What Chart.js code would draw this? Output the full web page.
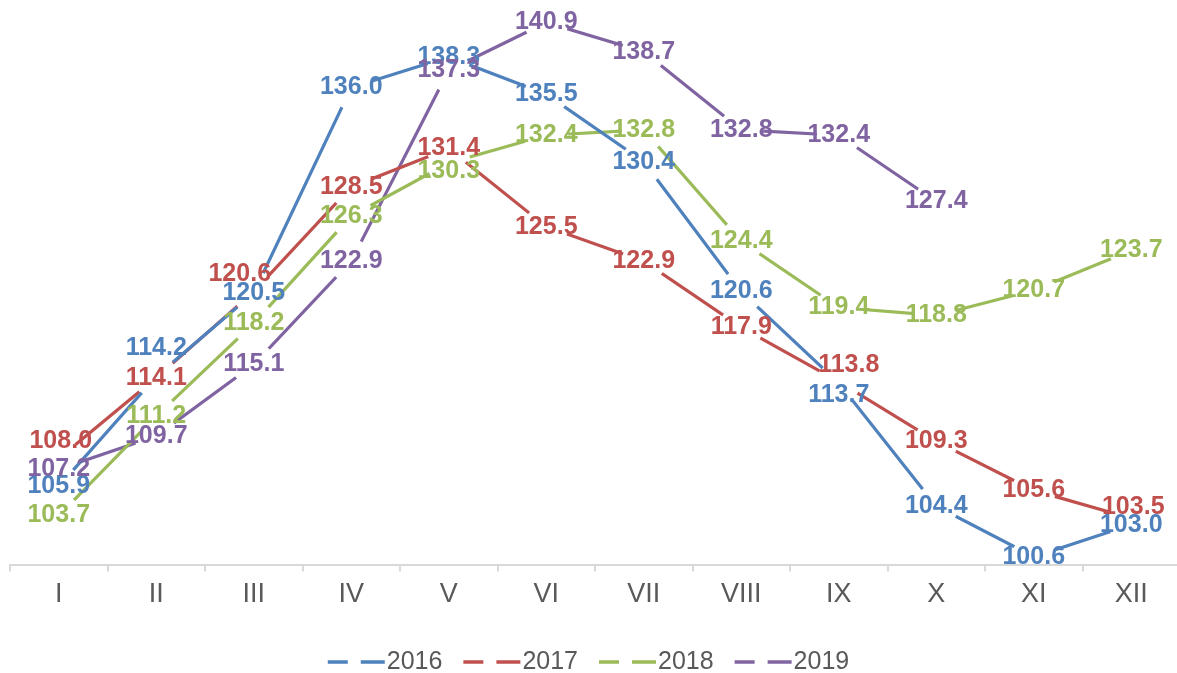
<!DOCTYPE html>
<html>
<head>
<meta charset="utf-8">
<script src="https://cdn.jsdelivr.net/npm/chart.js@4/dist/chart.umd.min.js"></script>
<style>
  html, body { margin: 0; padding: 0; background: #ffffff; overflow: hidden; }
  #wrap { position: relative; width: 1181px; height: 673px; }
</style>
</head>
<body>
<div id="wrap"><canvas id="c"></canvas></div>
<script>
// ---- data ----
const months = ['I','II','III','IV','V','VI','VII','VIII','IX','X','XI','XII'];
const seriesNames = ['2016','2017','2018','2019'];
const v2016 = [105.9, 114.2, 120.5, 136.0, 138.3, 135.5, 130.4, 120.6, 113.7, 104.4, 100.6, 103.0];
const v2017 = [108.0, 114.1, 120.6, 128.5, 131.4, 125.5, 122.9, 117.9, 113.8, 109.3, 105.6, 103.5];
const v2018 = [103.7, 111.2, 118.2, 126.3, 130.3, 132.4, 132.8, 124.4, 119.4, 118.8, 120.7, 123.7];
const v2019 = [107.2, 109.7, 115.1, 122.9, 137.3, 140.9, 138.7, 132.8, 132.4, 127.4, null, null];

// ---- styles ----
const colors = ['#4F81BD', '#C0504D', '#9BBB59', '#8064A2'];
const FONT = '"Liberation Sans", Arial, Helvetica, sans-serif';
const GAP_R = 22;
// label nudges (pixels) for a few crowded labels: [seriesIndex][pointIndex] = [dx, dy]
const labelNudge = {
  0: { 1: [0, -28], 8: [0, 12] },
  1: { 0: [2, -17.5], 2: [-14, -17.5], 8: [10, -17], 11: [2, -11.5] },
  2: { 4: [0, 8] }
};

const allValues = [v2016, v2017, v2018, v2019];

const gapPlugin = {
  id: 'gaps',
  beforeDatasetDraw(chart, args) {
    const ctx = chart.ctx;
    const meta = args.meta;
    ctx.save();
    ctx.beginPath();
    ctx.rect(0, 0, chart.width, chart.height);
    meta.data.forEach((el, j) => {
      const v = chart.data.datasets[args.index].data[j];
      if (v === null || v === undefined || isNaN(el.x) || isNaN(el.y)) return;
      ctx.moveTo(el.x + GAP_R, el.y);
      ctx.arc(el.x, el.y, GAP_R, 0, Math.PI * 2);
    });
    ctx.clip('evenodd');
  },
  afterDatasetDraw(chart) {
    chart.ctx.restore();
  }
};

const labelPlugin = {
  id: 'valueLabels',
  afterDatasetsDraw(chart) {
    const ctx = chart.ctx;
    ctx.save();
    ctx.font = 'bold 25px ' + FONT;
    ctx.textAlign = 'center';
    ctx.textBaseline = 'middle';
    chart.data.datasets.forEach((ds, i) => {
      const meta = chart.getDatasetMeta(i);
      ctx.fillStyle = colors[i];
      meta.data.forEach((el, j) => {
        const v = ds.data[j];
        if (v === null || v === undefined) return;
        const n = (labelNudge[i] && labelNudge[i][j]) || [0, 0];
        ctx.fillText(v.toFixed(1), el.x + n[0], el.y + n[1]);
      });
    });
    ctx.restore();
  }
};

const legendPlugin = {
  id: 'dashLegend',
  afterDraw(chart) {
    const ctx = chart.ctx;
    ctx.save();
    ctx.font = '25px ' + FONT;
    const symW = 57, textGap = 2, itemGap = 21, cy = 662, cx = 588.5;
    const widths = seriesNames.map(t => ctx.measureText(t).width);
    let total = 0;
    widths.forEach(w => total += symW + textGap + w);
    total += itemGap * (seriesNames.length - 1);
    let x = cx - total / 2;
    seriesNames.forEach((t, i) => {
      ctx.strokeStyle = colors[i];
      ctx.lineWidth = 3.5;
      ctx.lineCap = 'butt';
      ctx.setLineDash([20, 13, 24]);
      ctx.beginPath();
      ctx.moveTo(x, cy);
      ctx.lineTo(x + symW, cy);
      ctx.stroke();
      ctx.setLineDash([]);
      ctx.fillStyle = '#595959';
      ctx.textAlign = 'left';
      ctx.textBaseline = 'middle';
      ctx.fillText(t, x + symW + textGap, cy);
      x += symW + textGap + widths[i] + itemGap;
    });
    ctx.restore();
  }
};

new Chart(document.getElementById('c'), {
  type: 'line',
  data: {
    labels: months,
    datasets: seriesNames.map((name, i) => ({
      label: name,
      data: allValues[i],
      borderColor: colors[i],
      backgroundColor: colors[i],
      borderWidth: 3.2,
      pointRadius: 0,
      pointHoverRadius: 0,
      tension: 0,
      fill: false,
      spanGaps: false
    }))
  },
  options: {
    responsive: true,
    maintainAspectRatio: false,
    animation: false,
    events: [],
    layout: { padding: { left: 10, right: 1, top: 8, bottom: 55 } },
    plugins: {
      legend: { display: false },
      tooltip: { enabled: false },
      title: { display: false }
    },
    scales: {
      x: {
        offset: true,
        grid: {
          offset: true,
          drawOnChartArea: false,
          drawTicks: true,
          tickLength: 7,
          color: '#d9d9d9',
          lineWidth: 2
        },
        border: { display: true, color: '#d9d9d9', width: 2 },
        ticks: {
          color: '#595959',
          font: { family: FONT, size: 27 },
          padding: 7,
          maxRotation: 0,
          autoSkip: false
        }
      },
      y: {
        display: false,
        min: 100,
        max: 142
      }
    }
  },
  plugins: [gapPlugin, labelPlugin, legendPlugin]
});
</script>
</body>
</html>
